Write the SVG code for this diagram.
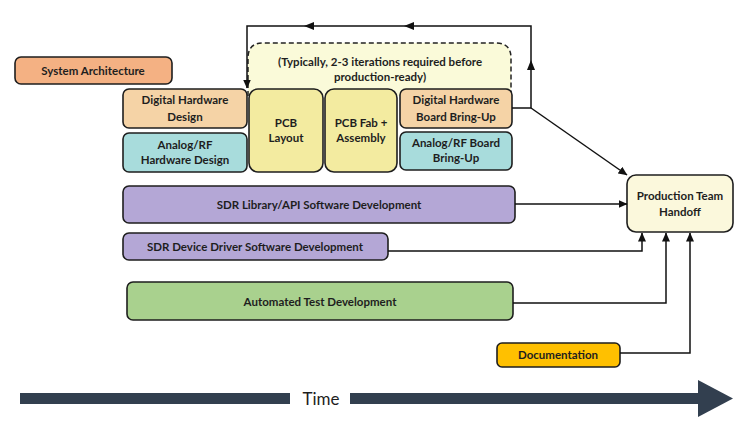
<svg xmlns="http://www.w3.org/2000/svg" width="750" height="436" viewBox="0 0 750 436">
<defs>
<marker id="arr" markerWidth="9" markerHeight="8" refX="8.5" refY="4" orient="auto" markerUnits="userSpaceOnUse">
<path d="M0,0 L9,4 L0,8 Z" fill="#111"/>
</marker>
</defs>
<style>
.box{stroke:#1e1e1e;stroke-width:1.6}
.t{font-family:Lato,"Liberation Sans",Arial,sans-serif;font-weight:700;font-size:11.5px;fill:#1e1e1e;text-anchor:middle}
.c{fill:none;stroke:#111;stroke-width:1.5}
.ah{fill:#111}
.tl{fill:#323f4f}
</style>
<rect width="750" height="436" fill="#fff"/>

<g id="iteration-note">
<path d="M248,96 V58 Q248,43 263,43 H496 Q511,43 511,58 V96" fill="#fafad9" stroke="#222" stroke-width="1.5" stroke-dasharray="5,3"/>
<text class="t" x="380" y="66">(Typically, 2-3 iterations required before</text>
<text class="t" x="380" y="81">production-ready)</text>
</g>

<g id="system-architecture">
<rect class="box" x="15" y="57" width="157" height="27" rx="6" fill="#f4b183"/>
<text class="t" x="93" y="75">System Architecture</text>
</g>
<g id="digital-hw-design">
<rect class="box" x="123" y="89" width="124" height="39" rx="6" fill="#f5d3a6"/>
<text class="t" x="185" y="104">Digital Hardware</text>
<text class="t" x="185" y="121">Design</text>
</g>
<g id="analog-hw-design">
<rect class="box" x="123" y="133" width="124" height="39" rx="6" fill="#a8dcdc"/>
<text class="t" x="185" y="149">Analog/RF</text>
<text class="t" x="185" y="164">Hardware Design</text>
</g>
<g id="pcb-layout">
<rect class="box" x="249" y="89" width="74" height="83" rx="9" fill="#f3eba0"/>
<text class="t" x="286" y="127">PCB</text>
<text class="t" x="286" y="142">Layout</text>
</g>
<g id="pcb-fab">
<rect class="box" x="325" y="89" width="72" height="83" rx="9" fill="#f3eba0"/>
<text class="t" x="361" y="127">PCB Fab +</text>
<text class="t" x="361" y="142">Assembly</text>
</g>
<g id="digital-bringup">
<rect class="box" x="400" y="89" width="112" height="39" rx="6" fill="#f5d3a6"/>
<text class="t" x="456" y="104">Digital Hardware</text>
<text class="t" x="456" y="121">Board Bring-Up</text>
</g>
<g id="analog-bringup">
<rect class="box" x="400" y="132" width="112" height="38" rx="6" fill="#a8dcdc"/>
<text class="t" x="456" y="147">Analog/RF Board</text>
<text class="t" x="456" y="162">Bring-Up</text>
</g>
<g id="sdr-library">
<rect class="box" x="123" y="186" width="392" height="37" rx="6" fill="#b4a7d6"/>
<text class="t" x="319" y="209">SDR Library/API Software Development</text>
</g>
<g id="sdr-driver">
<rect class="box" x="123" y="233" width="265" height="27" rx="6" fill="#b4a7d6"/>
<text class="t" x="255" y="251">SDR Device Driver Software Development</text>
</g>
<g id="automated-test">
<rect class="box" x="127" y="282" width="386" height="38" rx="6" fill="#a9d18e"/>
<text class="t" x="320" y="306">Automated Test Development</text>
</g>
<g id="documentation">
<rect class="box" x="497" y="343" width="123" height="24" rx="5" fill="#ffc000"/>
<text class="t" x="558" y="359">Documentation</text>
</g>
<g id="production-handoff">
<rect class="box" x="627" y="175" width="106" height="57" rx="9" fill="#fbf8dc"/>
<text class="t" x="680" y="200">Production Team</text>
<text class="t" x="680" y="216">Handoff</text>
</g>

<g id="connectors">
<path class="c" d="M512,108 H531 V26 H247 V88" marker-end="url(#arr)"/>
<polygon class="ah" points="531,60 527,70 535,70"/>
<polygon class="ah" points="404,26 414,22 414,30"/>
<polygon class="ah" points="304,26 314,22 314,30"/>
<path class="c" d="M531,108 L627,175" marker-end="url(#arr)"/>
<path class="c" d="M515,204 H627" marker-end="url(#arr)"/>
<path class="c" d="M388,251 H642 V233" marker-end="url(#arr)"/>
<path class="c" d="M513,303 H666 V233" marker-end="url(#arr)"/>
<path class="c" d="M620,353 H690 V233" marker-end="url(#arr)"/>
</g>

<g id="time-axis">
<rect class="tl" x="20" y="393" width="270" height="11"/>
<rect class="tl" x="350" y="393" width="350" height="11"/>
<polygon class="tl" points="698,380 733,398.5 698,417"/>
<text x="321" y="405" font-family="Lato,'Liberation Sans',Arial,sans-serif" font-size="17" fill="#1e1e1e" text-anchor="middle">Time</text>
</g>
</svg>
